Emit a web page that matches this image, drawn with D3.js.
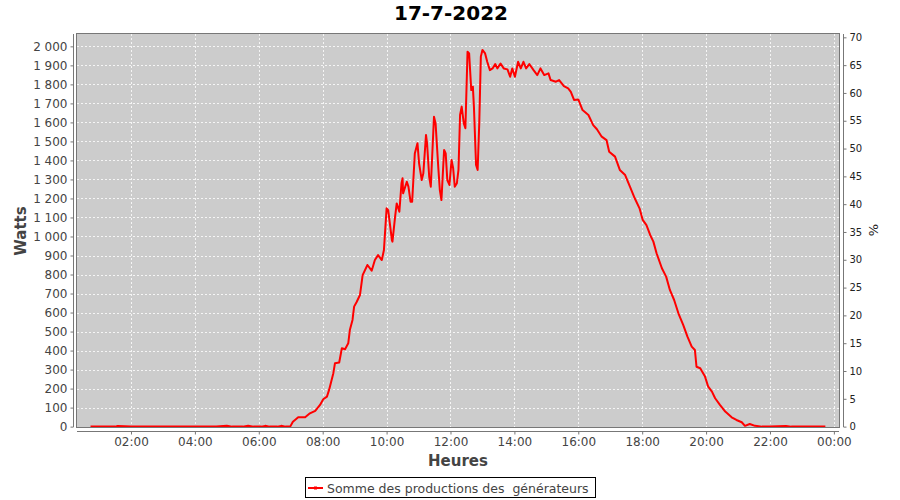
<!DOCTYPE html>
<html><head><meta charset="utf-8">
<script src="https://cdn.jsdelivr.net/npm/d3@7"></script>
<style>
body{margin:0;background:#fff;}
text{font-family:"DejaVu Sans",sans-serif;}
</style></head>
<body><svg id="c" width="900" height="500"></svg>
<script>
const title = "17-7-2022";
const seriesName = "Somme des productions des  générateurs";
const yLabel = "Watts", y2Label = "%", xLabel = "Heures";
const times = ["00:44","01:00","01:30","01:35","02:00","03:00","04:00","04:40","05:00","05:10","05:30","05:40","05:50","06:05","06:12","06:20","06:35","06:42","06:50",
"06:59","07:04","07:08","07:14","07:27","07:36","07:46","07:55","08:01","08:08","08:12","08:20","08:23","08:31","08:36","08:42","08:48","08:51","08:56","08:59",
"09:04","09:10","09:15","09:24","09:32","09:38","09:44","09:51","09:55","10:00","10:03","10:10","10:11","10:16","10:19","10:24","10:28","10:30","10:31","10:38",
"10:41","10:45","10:48","10:53","10:58","11:01","11:06","11:09","11:14","11:16","11:20","11:23","11:29","11:32","11:37","11:40","11:43","11:48","11:51","11:54",
"11:58","12:02","12:05","12:08","12:12","12:15","12:18","12:21","12:25","12:28","12:32","12:35","12:39","12:42","12:44","12:48","12:51","12:54","12:57","13:00",
"13:05","13:09","13:14","13:19","13:24","13:28","13:34","13:40","13:47","13:52","13:56","14:01","14:07","14:12","14:17","14:22","14:28","14:36","14:43","14:49",
"14:56","15:04","15:08","15:18","15:24","15:33","15:41","15:46","15:52","16:00","16:08","16:19","16:28","16:35","16:44","16:53","16:58","17:09","17:18","17:28",
"17:37","17:46","17:55","18:01","18:08","18:15","18:21","18:27","18:37","18:45","18:52","19:00","19:08","19:17","19:25","19:33","19:39","19:42","19:49","19:58",
"20:04","20:11","20:17","20:26","20:36","20:48","20:57","21:07","21:13","21:22","21:32","21:45","22:00","22:30","22:40","23:00","23:30","23:44"];
const watts = [0,0,0,3,0,0,0,0,4,0,0,5,0,0,4,0,0,4,0,
0,26,35,49,49,70,83,114,144,158,193,281,333,337,412,407,438,508,561,631,
657,692,797,850,820,876,902,876,929,1148,1139,981,973,1104,1174,1130,1280,1306,1227,1288,
1262,1183,1183,1437,1490,1385,1297,1332,1534,1490,1314,1262,1630,1595,1367,1244,1192,1455,1437,1297,
1271,1402,1359,1262,1280,1350,1639,1683,1595,1569,1972,1963,1770,1788,1683,1376,1350,1595,1946,1981,
1963,1919,1875,1884,1907,1884,1910,1884,1879,1840,1884,1840,1919,1884,1919,1884,1907,1875,1849,1884,
1849,1858,1823,1814,1823,1791,1779,1761,1718,1721,1665,1639,1586,1564,1525,1507,1446,1420,1350,1323,
1262,1201,1148,1087,1060,1008,973,912,833,789,719,666,596,535,473,421,403,315,307,263,
210,184,149,114,79,49,35,23,4,14,4,0,0,3,0,0,0,0];
const yTicks = d3.range(0, 2001, 100);
const y2Ticks = d3.range(0, 71, 5);
const xTicks = [2,4,6,8,10,12,14,16,18,20,22,24];

const data = times.map((t,i)=>{const [h,m]=t.split(":").map(Number);return {h:h+m/60,v:watts[i]};});

const svg = d3.select("#c");
const L=77,R=839,T=34,B=427;
const x = d3.scaleLinear().domain([0.31,24.16]).range([L,R]);
const y = d3.scaleLinear().domain([-2,2065]).range([B,T]);
const y2 = d3.scaleLinear().domain([-0.07,70.6]).range([B,T]);
const txt="#444";
const fmt = v => d3.format(",")(v).replace(/,/g,"\u00a0");

svg.append("text").attr("x",451).attr("y",20).attr("text-anchor","middle")
  .attr("font-size",20).attr("font-weight","bold").attr("fill","#000").text(title);

svg.append("rect").attr("x",L).attr("y",T).attr("width",R-L).attr("height",B-T).attr("fill","#cccccc");
// grid
const g=svg.append("g").attr("stroke","#fff").attr("stroke-width",0.8).attr("stroke-dasharray","2,2");
yTicks.forEach(t=>g.append("line").attr("x1",L).attr("x2",R).attr("y1",Math.round(y(t))+0.5).attr("y2",Math.round(y(t))+0.5));
xTicks.forEach(t=>g.append("line").attr("y1",T).attr("y2",B).attr("x1",Math.round(x(t))+0.5).attr("x2",Math.round(x(t))+0.5));

// line
svg.append("path").datum(data).attr("fill","none").attr("stroke","#ff0000").attr("stroke-width",2)
  .attr("stroke-linejoin","round")
  .attr("d",d3.line().x(d=>x(d.h)).y(d=>y(d.v)));

svg.append("rect").attr("x",L-0.5).attr("y",T-0.5).attr("width",R-L+1).attr("height",B-T+1)
  .attr("fill","none").attr("stroke","#777");

// left axis
const ax=svg.append("g").attr("transform","translate(73.5,0)")
  .call(d3.axisLeft(y).tickValues(yTicks).tickFormat(fmt).tickSize(3).tickPadding(3));
ax.select(".domain").attr("stroke","#777").attr("d",`M0,${T}V${B}`);
ax.selectAll(".tick line").attr("stroke","#777");
ax.selectAll("text").attr("font-size",12).attr("fill",txt).attr("font-family","DejaVu Sans");

// right axis
const ar=svg.append("g").attr("transform","translate(843.5,0)")
  .call(d3.axisRight(y2).tickValues(y2Ticks).tickSize(3).tickPadding(3));
ar.select(".domain").attr("stroke","#777").attr("d",`M0,${T}V${B}`);
ar.selectAll(".tick line").attr("stroke","#777");
ar.selectAll("text").attr("font-size",10).attr("fill","#222").attr("font-family","DejaVu Sans");

// bottom axis
const ab=svg.append("g").attr("transform","translate(0,431.5)")
  .call(d3.axisBottom(x).tickValues(xTicks).tickFormat(h=>String(h%24).padStart(2,"0")+":00").tickSize(3).tickPadding(3));
ab.select(".domain").attr("stroke","#777").attr("d",`M${L},0H${R}`);
ab.selectAll(".tick line").attr("stroke","#777");
ab.selectAll("text").attr("font-size",12).attr("fill",txt).attr("font-family","DejaVu Sans");

// axis labels
svg.append("text").attr("transform","translate(26,231) rotate(-90)").attr("text-anchor","middle")
  .attr("font-size",15).attr("font-weight","bold").attr("fill",txt).text(yLabel);
svg.append("text").attr("transform","translate(878,230) rotate(-90)").attr("text-anchor","middle")
  .attr("font-size",13).attr("fill","#222").text(y2Label);
svg.append("text").attr("x",458).attr("y",466).attr("text-anchor","middle")
  .attr("font-size",15).attr("font-weight","bold").attr("fill",txt).text(xLabel);

// legend
const lg=svg.append("g");
lg.append("rect").attr("x",305.5).attr("y",477.5).attr("width",290).attr("height",20).attr("fill","#fff").attr("stroke","#000");
lg.append("line").attr("x1",308).attr("x2",323).attr("y1",488).attr("y2",488).attr("stroke","#ff0000").attr("stroke-width",2);
lg.append("rect").attr("x",314).attr("y",486.5).attr("width",3).attr("height",3).attr("fill","#ff0000");
lg.append("text").attr("x",327).attr("y",492.5).attr("font-size",12.5).attr("fill",txt)
  .attr("xml:space","preserve").style("white-space","pre").text(seriesName);
</script></body></html>
